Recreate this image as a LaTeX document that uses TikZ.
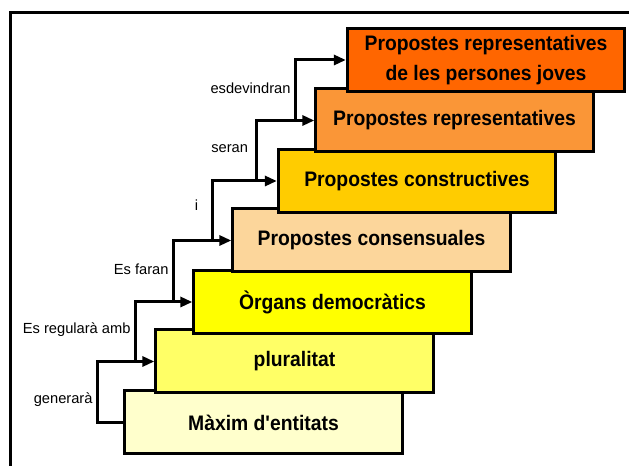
\documentclass[tikz,border=0pt]{standalone}
\usepackage{fontspec}
\setmainfont{Liberation Sans}
\newfontfamily\stairfont[FakeStretch=0.92]{Liberation Sans}
\usetikzlibrary{arrows.meta,calc}

\definecolor{stepone}{RGB}{255,255,204}
\definecolor{steptwo}{RGB}{255,255,102}
\definecolor{stepthree}{RGB}{255,255,0}
\definecolor{stepfour}{RGB}{252,214,155}
\definecolor{stepfive}{RGB}{255,204,0}
\definecolor{stepsix}{RGB}{250,150,55}
\definecolor{stepseven}{RGB}{255,102,0}

\tikzset{every picture/.style={line width=0.75pt},
  stair/.style={draw, line width=2.25pt, minimum width=208pt, minimum height=47.25pt, inner sep=0pt, align=center, font=\stairfont\bfseries\fontsize{15.75}{22}\selectfont},
  link/.style={line width=2.25pt, -{Triangle[length=9pt,width=7.5pt]}},
  verb/.style={left, inner sep=2.5pt, font=\fontsize{11}{13}\selectfont}}

\begin{document}
\begin{tikzpicture}[x=0.75pt,y=0.75pt,yscale=-1,xscale=1]
\clip (0,0) rectangle (629,466);
\fill [white] (0,0) rectangle (629,466);

%Frame
\draw [line width=2.25pt] (10,480) -- (10,13) -- (640,13) ;

%Shape: Rectangles (steps)
\node [stair, fill=stepone] (b1) at (263.5,422.5) {Màxim d'entitats};
\node [stair, fill=steptwo] (b2) at (294.5,361.5) {pluralitat};
\node [stair, fill=stepthree] (b3) at (332.5,302) {Òrgans democràtics};
\node [stair, fill=stepfour] (b4) at (371.5,240.5) {Propostes consensuales};
\node [stair, fill=stepfive] (b5) at (417,181) {Propostes constructives};
\node [stair, fill=stepsix] (b6) at (454.5,120.5) {Propostes representatives};
\node [stair, fill=stepseven] (b7) at (486,60) {Propostes representatives\\de les persones joves};

%Connectors
\draw [link] (b1.west) -- ++(-26,0) |- node [verb, pos=0.19] (l1) {generarà} (b2.west);
\draw [link] ($(b2.west)+(-19,0)$) |- node [verb, pos=0.27] (l2) {Es regularà amb} (b3.west);
\draw [link] ($(b3.west)+(-19,0)$) |- node [verb, pos=0.27] (l3) {Es faran} (b4.west);
\draw [link] ($(b4.west)+(-19,0)$) |- node [verb, pos=0.3, xshift=-7pt] (l4) {i} (b5.west);
\draw [link] ($(b5.west)+(-20,0)$) |- node [verb, pos=0.27, xshift=-3pt] (l5) {seran} (b6.west);
\draw [link] ($(b6.west)+(-19,0)$) |- node [verb, pos=0.27] (l6) {esdevindran} (b7.west);

\end{tikzpicture}
\end{document}
